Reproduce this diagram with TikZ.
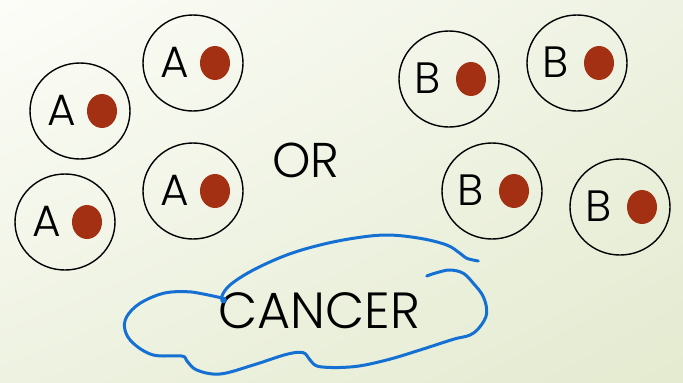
\documentclass[tikz,border=0pt]{standalone}
\usepackage{fontspec}
\setmainfont{Poppins}[UprightFont=* Light]
\usetikzlibrary{shapes.geometric,shadings}
\definecolor{dotred}{HTML}{A33013}
\definecolor{inkblue}{HTML}{1470D2}
\definecolor{bgul}{RGB}{252,253,248}
\definecolor{bgur}{RGB}{238,242,226}
\definecolor{bgll}{RGB}{238,242,225}
\definecolor{bglr}{RGB}{228,235,208}
\begin{document}
\begin{tikzpicture}[x=1bp,y=-1bp,
  cell/.style={draw=black,line width=1.4bp,ellipse,minimum width=100bp,minimum height=96bp,inner sep=0pt},
  nucleus/.style={fill=dotred,ellipse,minimum width=30bp,minimum height=34bp,inner sep=0pt},
  letter/.style={font=\fontsize{44}{44}\selectfont,inner sep=0pt},
  bigword/.style={font=\fontsize{49}{49}\selectfont,inner sep=0pt},
  cancerword/.style={font=\fontsize{51}{51}\selectfont,inner sep=0pt},
  ink/.style={draw=inkblue,line width=3bp,line cap=round,line join=round}]
\useasboundingbox (0,0) rectangle (683,382);
\shade[upper left=bgul,upper right=bgur,lower left=bgll,lower right=bglr]
  (0,0) rectangle (683,382);
% cells: A group
\foreach \n/\cx/\cy in {a1/193/63, a2/80/111, a3/65/222, a4/193/191}{
  \node[cell] (\n) at (\cx,\cy) {};
  \node[letter,anchor=center] (\n l) at ([xshift=-18bp,yshift=1bp]\n.center) {A};
  \node[nucleus] (\n d) at ([xshift=22bp,yshift=0bp]\n.center) {};
}
% cells: B group
\foreach \n/\cx/\cy in {b1/449/79, b2/577/63, b3/492/191, b4/620/207}{
  \node[cell] (\n) at (\cx,\cy) {};
  \node[letter,anchor=center] (\n l) at ([xshift=-21bp,yshift=1bp]\n.center) {B};
  \node[nucleus] (\n d) at ([xshift=22bp,yshift=0bp]\n.center) {};
}
\node[bigword] (or) at (306,160) {OR};
\node[cancerword] (cancer) at (319,311) {CANCER};
% hand-drawn loop around the word
\draw[ink] plot[smooth,tension=0.6] coordinates {
  (478.3,261) (466.7,258.3) (460,253.3) (446.7,245) (420,238.3) (386.7,235)
  (353.3,238.3) (320,245) (286.7,255) (253.3,270) (230,285) (221.7,296.7) (224.3,301)};
\fill[inkblue] (223.5,300) circle (3.3bp);
\draw[ink] plot[smooth,tension=0.6] coordinates {
  (222,298) (203.3,294) (186.7,291.7) (163.3,293.3) (140,303.3) (126.7,316.7) (125,330)
  (133.3,343.3) (153.3,355) (181.7,356) (186.7,360.7) (196.7,370) (220,374)
  (253.3,365) (286.7,354.3) (303.3,352.7) (310,360) (320,366.7) (353.3,366.7)
  (386.7,360) (420,350) (453.3,339.3) (470,335) (480,326.7) (486.7,313.3)
  (483.3,296.7) (473.3,283.3) (463.3,273.3) (450,270) (436.7,272.7) (426.7,276)};
\end{tikzpicture}
\end{document}
